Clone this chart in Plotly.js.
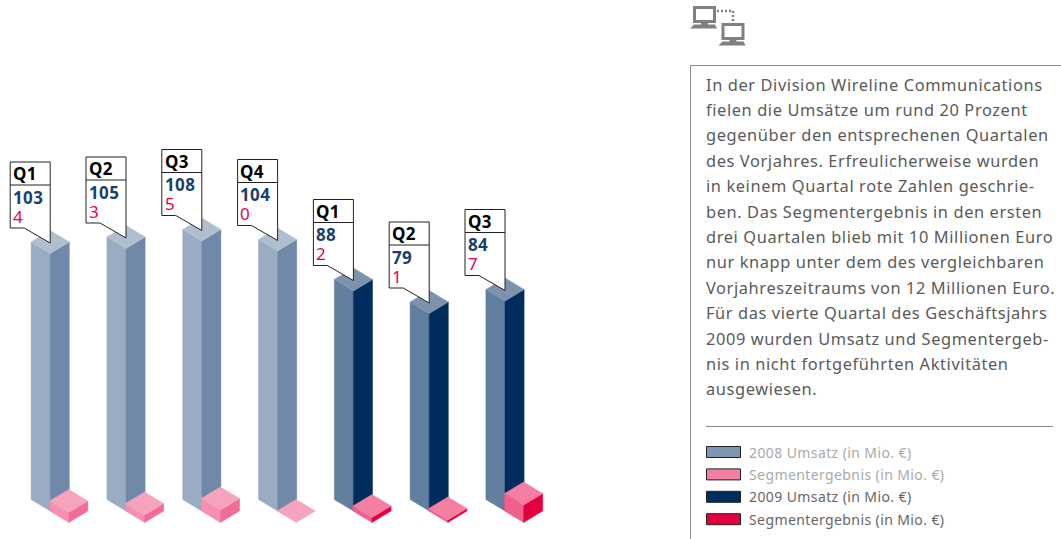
<!DOCTYPE html>
<html><head><meta charset="utf-8">
<script src="https://cdn.plot.ly/plotly-3.0.1.min.js"></script>
<style>
html,body{margin:0;padding:0;background:#fff;overflow:hidden}
.annotation-text{letter-spacing:.4px}
.annotation-text[style*="16.4px"]{letter-spacing:.6px}
</style></head><body><div id="chart" style="width:1061px;height:539px"></div>
<script>
const quarters = ["Q1","Q2","Q3","Q4","Q1","Q2","Q3"];
const years = [2008,2008,2008,2008,2009,2009,2009];
const revenue = [103,105,108,104,88,79,84];
const segment = [4,3,5,0,2,1,7];
const paragraph = [
"In der Division Wireline Communications",
"fielen die Umsätze um rund 20 Prozent",
"gegenüber den entsprechenen Quartalen",
"des Vorjahres. Erfreulicherweise wurden",
"in keinem Quartal rote Zahlen geschrie-",
"ben. Das Segmentergebnis in den ersten",
"drei Quartalen blieb mit 10 Millionen Euro",
"nur knapp unter dem des vergleichbaren",
"Vorjahreszeitraums von 12 Millionen Euro.",
"Für das vierte Quartal des Geschäftsjahrs",
"2009 wurden Umsatz und Segmentergeb-",
"nis in nicht fortgeführten Aktivitäten",
"ausgewiesen."];
const legendLabels = ["2008 Umsatz (in Mio. €)","Segmentergebnis (in Mio. €)","2009 Umsatz (in Mio. €)","Segmentergebnis (in Mio. €)"];

const barCol = {2008:{l:"#9aacc1",r:"#7089a8",t:"#b0bfcf"},2009:{l:"#627f9f",r:"#002d5e",t:"#7d93ad"}};
const boxCol = {2008:{l:"#f78fb0",r:"#f26d95",t:"#f6a4bd"},2009:{l:"#f0608c",r:"#e4003f",t:"#f47fa2"}};
const UNIT=2.5, DX=19.1, DY=11.5, BASE=511, STEP=75.8, X0=50.2;
const traces=[], shapes=[], ann=[];
function poly(pts,color){
  traces.push({type:"scatter",mode:"lines",x:pts.map(p=>p[0]).concat(pts[0][0]),y:pts.map(p=>p[1]).concat(pts[0][1]),
    fill:"toself",fillcolor:color,line:{color:color,width:0.5},hoverinfo:"skip",showlegend:false});
}
function prism(cx,by,h,c){
  const ty=by-h;
  if(h>0){
    poly([[cx-DX,by-DY],[cx,by],[cx,ty],[cx-DX,ty-DY]],c.l);
    poly([[cx,by],[cx+DX,by-DY],[cx+DX,ty-DY],[cx,ty]],c.r);
  }
  poly([[cx,ty],[cx+DX,ty-DY],[cx,ty-2*DY],[cx-DX,ty-DY]],c.t);
}
function text(x,y,t,size,color,family,weight){
  ann.push({xref:"x",yref:"y",x:x,y:y,xanchor:"left",yanchor:"middle",showarrow:false,align:"left",
    text:weight?"<b>"+t+"</b>":t,font:{size:size,color:color,family:family}});
}
revenue.forEach((v,i)=>{
  const cx=X0+i*STEP, y=years[i];
  prism(cx,BASE,v*UNIT,barCol[y]);
  prism(cx+DX-0.5,BASE+DY,segment[i]*UNIT,boxCol[y]);
  const tipX=cx, tipY=BASE-DY-v*UNIT+1, L=tipX-40;
  const pts=[[L,tipY-81],[tipX,tipY-81],[tipX,tipY],[L+14,tipY-15],[L,tipY-15]];
  traces.push({type:"scatter",mode:"lines",x:pts.map(p=>p[0]).concat(L),y:pts.map(p=>p[1]).concat(tipY-81),
    fill:"toself",fillcolor:"#fff",line:{color:"#222",width:1},hoverinfo:"skip",showlegend:false});
  traces.push({type:"scatter",mode:"lines",x:[L,tipX],y:[tipY-58,tipY-58],line:{color:"#222",width:1},hoverinfo:"skip",showlegend:false});
  text(L+0.8,tipY-69.5,quarters[i],17,"#000","Noto Sans",true);
  text(L+0.8,tipY-46,String(v),17,"#1c3f6e","Noto Sans",true);
  text(L+0.8,tipY-27,String(segment[i]),17,"#e5004a","Noto Sans",false);
});
paragraph.forEach((t,i)=>text(703.5,84+i*25.4,t,16.4,"#5a5a5a","Noto Sans",false));
const gray="#8a8a8a";
shapes.push({type:"line",xref:"x",yref:"y",x0:690.5,x1:1061,y0:65.5,y1:65.5,line:{color:gray,width:1}});
shapes.push({type:"line",xref:"x",yref:"y",x0:690.5,x1:690.5,y0:65.5,y1:539,line:{color:gray,width:1}});
shapes.push({type:"line",xref:"x",yref:"y",x0:706,x1:1053,y0:426.5,y1:426.5,line:{color:gray,width:1}});
const swatch=["#7f96b3","#f47fa2","#002d5e","#e4003f"], ltxt=["#a9a9a9","#a9a9a9","#666","#666"];
legendLabels.forEach((t,i)=>{
  const y=452+i*22.4;
  shapes.push({type:"rect",xref:"x",yref:"y",x0:706.5,x1:740.5,y0:y-5.5,y1:y+5.5,fillcolor:swatch[i],line:{color:"#222",width:1}});
  text(746.5,y,t,14,ltxt[i],"Noto Sans",false);
});
const ic="#808080";
function monitor(x,y){
  shapes.push({type:"rect",xref:"x",yref:"y",x0:x+1.5,x1:x+21.5,y0:y+1.5,y1:y+15.5,line:{color:ic,width:3},fillcolor:"rgba(0,0,0,0)"});
  shapes.push({type:"rect",xref:"x",yref:"y",x0:x+8,x1:x+15,y0:y+16,y1:y+20,line:{width:0},fillcolor:ic});
  shapes.push({type:"path",xref:"x",yref:"y",path:`M${x+1},${y+18.5} H${x+22} L${x+24},${y+22.5} H${x-3} Z`,line:{width:0},fillcolor:ic});
}
monitor(693,6); monitor(721.5,23);
shapes.push({type:"path",xref:"x",yref:"y",path:"M717,11 H733 V22",line:{color:ic,width:2.4,dash:"2px,2px"}});

Plotly.newPlot("chart",traces,{
  width:1061,height:539,margin:{l:0,r:0,t:0,b:0},paper_bgcolor:"#fff",plot_bgcolor:"#fff",showlegend:false,
  xaxis:{range:[0,1061],visible:false,fixedrange:true},
  yaxis:{range:[539,0],visible:false,fixedrange:true},
  shapes:shapes,annotations:ann
},{displayModeBar:false,staticPlot:true});
</script></body></html>
